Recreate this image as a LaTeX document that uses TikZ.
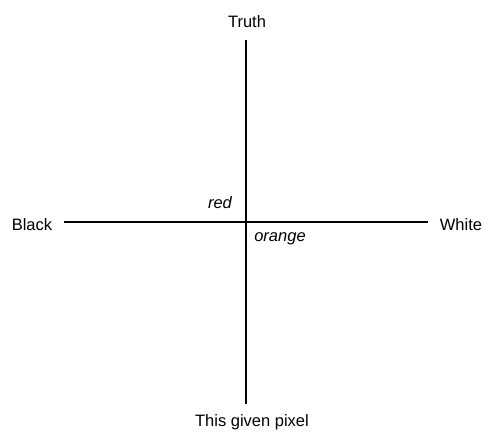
\documentclass[tikz,border=0pt]{standalone}
\usepackage{fontspec}
\setmainfont{Liberation Sans}
\usepackage{tikz}

\begin{document}
\begin{tikzpicture}[x=1pt, y=-1pt, every node/.style={font=\fontsize{16.5}{19}\selectfont, inner sep=0pt}]
  \useasboundingbox (0,0) rectangle (486,431);

  \node (T) at (247,22) {Truth};
  \node (P) at (252,422) {This given pixel};
  \node (B) at (32,225) {Black};
  \node (W) at (461,225) {White};
  \node (R) at (220,203) {\itshape red};
  \node (O) at (280,239) {\itshape orange};

  \coordinate (top) at (246,40);
  \coordinate (bot) at (246,404);
  \coordinate (lft) at (64,222);
  \coordinate (rgt) at (428,222);

  \draw [line width=2.4pt] (top) -- (bot);
  \draw [line width=2.4pt] (lft) -- (rgt);
\end{tikzpicture}
\end{document}
